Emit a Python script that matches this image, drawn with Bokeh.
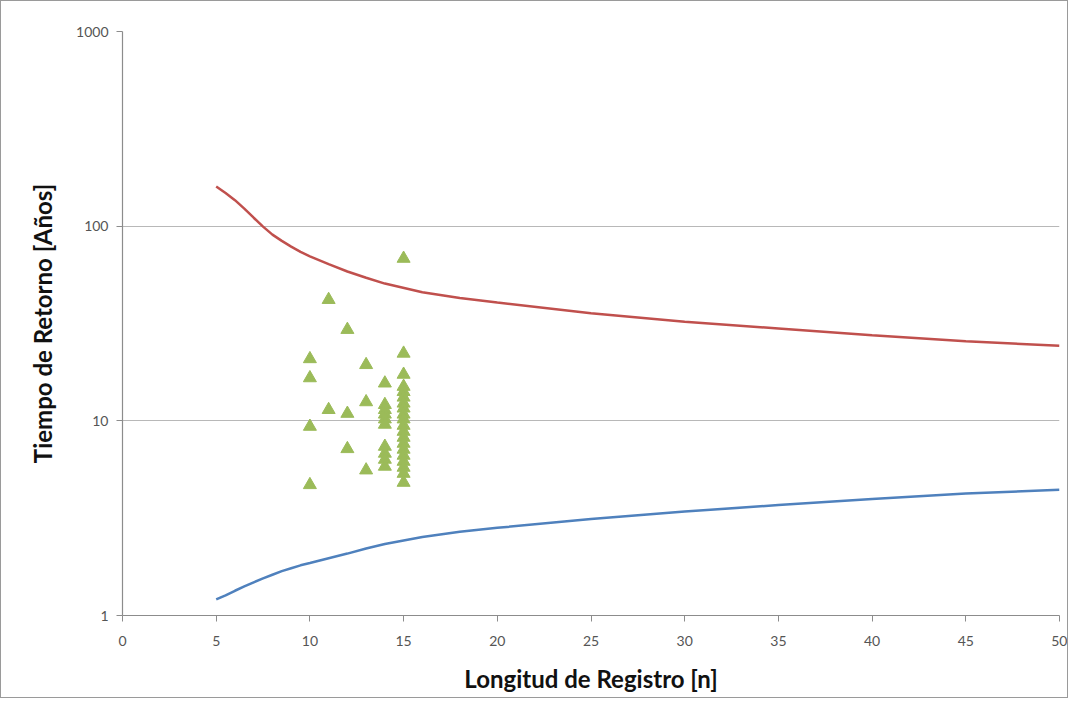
from bokeh.plotting import figure
from bokeh.models import FixedTicker, NumeralTickFormatter, Range1d
from bokeh.embed import file_html
from bokeh.resources import INLINE

# Upper band (red)
upper_x = [5, 5.5, 6, 6.5, 7, 7.5, 8, 8.5, 9, 9.5, 10, 11, 12, 13, 14, 16, 18, 20, 25, 30, 35, 40, 45, 50]
upper_y = [160, 148, 136, 123, 110.5, 99.5, 90.5, 84, 78.5, 73.8, 70, 63.8, 58.5, 54.3, 50.7, 45.8, 42.8, 40.5, 35.7, 32.3, 29.8, 27.5, 25.6, 24.3]

# Lower band (blue)
lower_x = [5, 5.5, 6, 6.5, 7, 7.5, 8, 8.5, 9, 9.5, 10, 11, 12, 13, 14, 16, 18, 20, 25, 30, 35, 40, 45, 50]
lower_y = [1.21, 1.27, 1.34, 1.41, 1.48, 1.55, 1.62, 1.69, 1.75, 1.81, 1.86, 1.97, 2.08, 2.21, 2.33, 2.53, 2.69, 2.82, 3.13, 3.42, 3.69, 3.97, 4.23, 4.42]

# Observed return periods (green triangles)
obs_n = ([10] * 4 + [11] * 2 + [12] * 3 + [13] * 3 + [14] * 10 + [15] * 20)
obs_t = ([20.8, 16.6, 9.35, 4.69] +
         [41.9, 11.4] +
         [29.4, 10.9, 7.18] +
         [19.4, 12.5, 5.58] +
         [15.6, 12.1, 11.4, 10.8, 10.2, 9.58, 7.38, 6.80, 6.33, 5.83] +
         [68.2, 22.2, 17.3, 15.0, 14.1, 13.2, 12.3, 11.6, 10.8, 10.2, 9.46,
          8.81, 8.21, 7.65, 7.13, 6.64, 6.18, 5.76, 5.36, 4.82])

x_ticks = [0, 5, 10, 15, 20, 25, 30, 35, 40, 45, 50]
y_ticks = [1, 10, 100, 1000]

p = figure(width=1068, height=698, y_axis_type="log",
           output_backend="svg", toolbar_location=None,
           x_range=Range1d(0, 50), y_range=Range1d(1, 1000),
           min_border_left=121, min_border_top=30, min_border_right=10,
           min_border_bottom=84)
p.outline_line_color = None
p.background_fill_color = "white"
p.border_fill_color = "white"
p.styles = {"border": "1px solid #9a9a9a"}

p.line(upper_x, upper_y, line_color="#C0504D", line_width=2.5)
p.line(lower_x, lower_y, line_color="#4F81BD", line_width=2.5)
p.scatter(obs_n, obs_t, marker="triangle", size=13,
          fill_color="#9BBB59", line_color="#9BBB59")

p.xgrid.grid_line_color = None
p.ygrid.grid_line_color = "#B8B8B8"
p.ygrid.grid_line_width = 1.2
p.ygrid.minor_grid_line_color = None

p.xaxis.ticker = FixedTicker(ticks=x_ticks)
p.yaxis.ticker = FixedTicker(ticks=y_ticks, minor_ticks=[])
p.yaxis.formatter = NumeralTickFormatter(format="0")

for ax in (p.xaxis[0], p.yaxis[0]):
    ax.axis_line_color = "#8C8C8C"
    ax.axis_line_width = 1.2
    ax.major_tick_line_color = "#8C8C8C"
    ax.minor_tick_line_color = None
    ax.major_tick_in = 0
    ax.major_tick_out = 6
    ax.major_label_text_font = "Lato"
    ax.major_label_text_font_size = "14px"
    ax.major_label_text_color = "#555555"
    ax.axis_label_text_font = "Lato"
    ax.axis_label_text_font_style = "bold"
    ax.axis_label_text_font_size = "24px"
    ax.axis_label_text_color = "#111111"

p.xaxis.axis_label = "Longitud de Registro [n]"
p.yaxis.axis_label = "Tiempo de Retorno [Años]"
p.xaxis.major_label_standoff = 14
p.yaxis.major_label_standoff = 8
p.xaxis.axis_label_standoff = 15
p.yaxis.axis_label_standoff = 16

open("out.html", "w").write(file_html(p, INLINE))
